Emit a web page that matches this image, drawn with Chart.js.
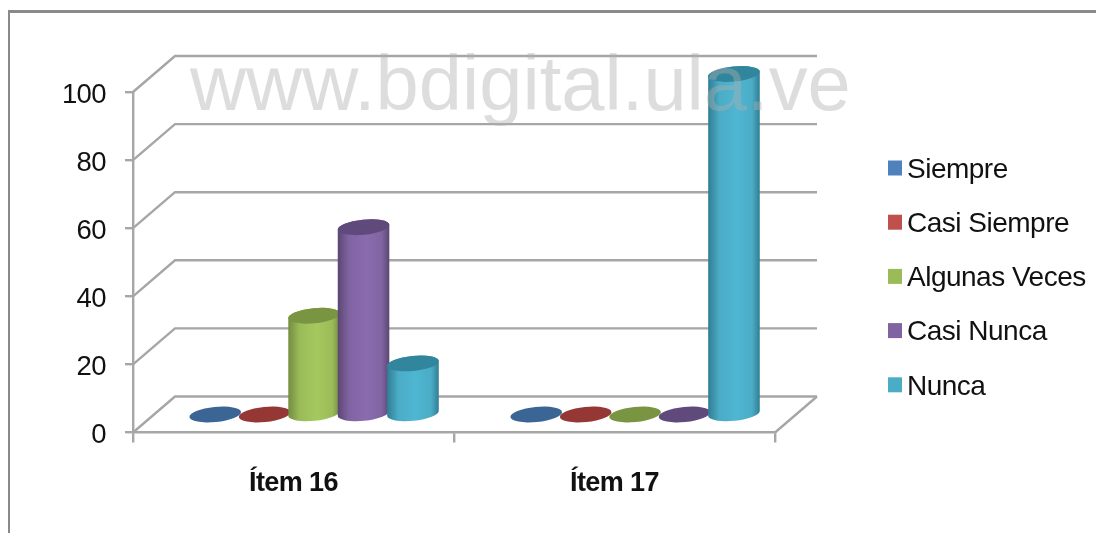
<!DOCTYPE html>
<html>
<head>
<meta charset="utf-8">
<style>
    html, body { margin: 0; padding: 0; background: #fff; overflow: hidden; }
    #wrap { position: relative; width: 1096px; height: 533px; }
    #frame { position: absolute; left: 8px; top: 10px; right: 0; bottom: 0; border-left: 2px solid #8a8a8a; border-top: 3px solid #8a8a8a; }
    canvas { position: absolute; left: 0; top: 0; filter: blur(0.6px); }
</style>
<script src="https://cdn.jsdelivr.net/npm/chart.js@4"></script>
</head>
<body>
<div id="wrap">
    <div id="frame"></div>
    <canvas id="chart" width="1096" height="533"></canvas>
</div>
<script>
const categories = ["Ítem 16", "Ítem 17"];
const siempre = [0, 0];
const casiSiempre = [0, 0];
const algunasVeces = [29, 0];
const casiNunca = [55, 0];
const nunca = [15, 100];
const seriesNames = ["Siempre", "Casi Siempre", "Algunas Veces", "Casi Nunca", "Nunca"];
const swatchColors = ["#4f81bd", "#c0504d", "#9bbb59", "#8064a2", "#4bacc6"];
const lightColors = ["#5089c9", "#cc5551", "#a5c85e", "#8a6cae", "#4fb6d2"];
const edgeColors = ["#375a85", "#863836", "#728c3f", "#5a4672", "#2f7d93"];
const capColors = ["#3a6595", "#953735", "#7a9542", "#604a7b", "#31859c"];
const watermark = "www.bdigital.ula.ve";

const FONT = '"Liberation Sans", Arial, sans-serif';
const GRID = "#a6a6a6";
// how far the back wall sits behind the front of the plot
const DEPTH_X = 42;
const DEPTH_Y = 36;

// back wall, floor and the slanted side lines
const wallPlugin = {
    id: "wall",
    beforeDraw(chart) {
        // reference text is a bit condensed, the tick labels inherit this
        chart.ctx.letterSpacing = "-0.6px";
    },
    beforeDatasetsDraw(chart) {
        const { ctx, chartArea, scales } = chart;
        const { left, right, bottom } = chartArea;
        ctx.save();
        ctx.strokeStyle = GRID;
        ctx.lineWidth = 2.4;
        scales.y.ticks.forEach((tick) => {
            const y = scales.y.getPixelForValue(tick.value);
            ctx.beginPath();
            ctx.moveTo(left, y);
            ctx.lineTo(left + DEPTH_X, y - DEPTH_Y);
            ctx.lineTo(right + DEPTH_X, y - DEPTH_Y);
            ctx.stroke();
        });
        ctx.beginPath();
        ctx.moveTo(right, bottom);
        ctx.lineTo(right + DEPTH_X, bottom - DEPTH_Y);
        ctx.stroke();
        ctx.restore();
    }
};

// the bars themselves stay transparent, this draws a cylinder on each one
const cylinderPlugin = {
    id: "cylinders",
    afterDatasetsDraw(chart) {
        const { ctx } = chart;
        const tilt = -0.1;
        chart.data.datasets.forEach((dataset, i) => {
            chart.getDatasetMeta(i).data.forEach((bar) => {
                const rx = bar.width / 2 + 1.2;
                const ry = rx * 0.29;
                const cx = bar.x + DEPTH_X / 2 - 0.4;
                const base = bar.base - DEPTH_Y / 2;
                const top = bar.y - DEPTH_Y / 2;
                ctx.save();
                if (base - top > 1) {
                    const g = ctx.createLinearGradient(cx - rx, 0, cx + rx, 0);
                    g.addColorStop(0, edgeColors[i]);
                    g.addColorStop(0.22, swatchColors[i]);
                    g.addColorStop(0.55, lightColors[i]);
                    g.addColorStop(0.85, swatchColors[i]);
                    g.addColorStop(1, edgeColors[i]);
                    ctx.fillStyle = g;
                    ctx.beginPath();
                    ctx.ellipse(cx, base, rx, ry, tilt, Math.PI, 0, true);
                    ctx.ellipse(cx, top, rx, ry, tilt, 0, Math.PI, true);
                    ctx.closePath();
                    ctx.fill();
                }
                ctx.fillStyle = capColors[i];
                ctx.beginPath();
                ctx.ellipse(cx, top, rx, ry, tilt, 0, Math.PI * 2);
                ctx.fill();
                ctx.restore();
            });
        });
    }
};

// legend has a tighter swatch/text gap than the built in one allows
const legendPlugin = {
    id: "sideLegend",
    afterDraw(chart) {
        const { ctx } = chart;
        ctx.save();
        ctx.font = "28px " + FONT;
        ctx.letterSpacing = "-0.5px";
        ctx.textBaseline = "middle";
        chart.data.datasets.forEach((dataset, i) => {
            const y = 168 + i * 54.2;
            ctx.fillStyle = swatchColors[i];
            ctx.fillRect(888, y - 7.5, 14, 15);
            ctx.fillStyle = "#111";
            ctx.fillText(dataset.label, 907, y + 2);
        });
        ctx.restore();
    }
};

const watermarkPlugin = {
    id: "watermark",
    afterDraw(chart) {
        const { ctx } = chart;
        ctx.save();
        ctx.font = "77.7px " + FONT;
        ctx.letterSpacing = "0px";
        ctx.fillStyle = "rgba(175,175,175,0.42)";
        ctx.textBaseline = "alphabetic";
        ctx.fillText(watermark, 190, 110);
        ctx.restore();
    }
};

const seriesValues = [siempre, casiSiempre, algunasVeces, casiNunca, nunca];

new Chart(document.getElementById("chart"), {
    type: "bar",
    data: {
        labels: categories,
        datasets: seriesNames.map((name, i) => ({
            label: name,
            data: seriesValues[i],
            backgroundColor: "transparent",
            hoverBackgroundColor: "transparent",
            borderWidth: 0,
            categoryPercentage: 0.77,
            barPercentage: 1
        }))
    },
    plugins: [wallPlugin, cylinderPlugin, watermarkPlugin, legendPlugin],
    options: {
        responsive: false,
        animation: false,
        layout: { padding: { top: 92, right: 321, left: 0, bottom: 0 } },
        plugins: {
            legend: { display: false },
            tooltip: { enabled: false }
        },
        scales: {
            x: {
                afterFit(scale) { scale.height = 100.5; },
                border: { color: GRID, width: 2.4 },
                grid: { drawOnChartArea: false, color: GRID, lineWidth: 2.4, tickLength: 10 },
                ticks: {
                    color: "#111",
                    padding: 25,
                    maxRotation: 0,
                    font: { family: FONT, size: 27, weight: "bold" }
                }
            },
            y: {
                min: 0,
                max: 100,
                afterFit(scale) { scale.width = 133; },
                border: { color: GRID, width: 2.4 },
                grid: { drawOnChartArea: false, color: GRID, lineWidth: 2.4, tickLength: 8 },
                ticks: {
                    stepSize: 20,
                    color: "#111",
                    padding: 19,
                    labelOffset: 3,
                    font: { family: FONT, size: 27.5 }
                }
            }
        }
    }
});
</script>
</body>
</html>
